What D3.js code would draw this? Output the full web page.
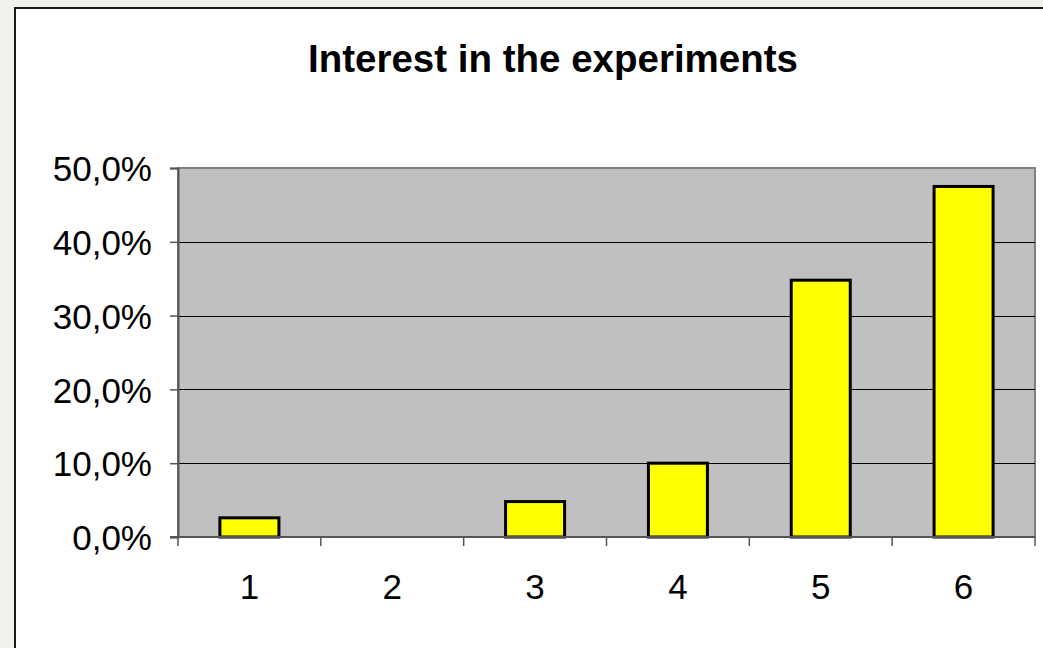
<!DOCTYPE html>
<html>
<head>
<meta charset="utf-8">
<script src="https://cdn.jsdelivr.net/npm/d3@7"></script>
<style>
  html, body { margin: 0; padding: 0; background: #f0f0ec; }
  svg { display: block; }
</style>
</head>
<body>
<script>
const categories = ["1", "2", "3", "4", "5", "6"];
const values = [0.026, 0.0, 0.048, 0.100, 0.348, 0.475];
const yTicks = [0, 0.1, 0.2, 0.3, 0.4, 0.5];
const title = "Interest in the experiments";

const W = 1043, H = 648;
const svg = d3.select("body").append("svg").attr("width", W).attr("height", H);

svg.append("rect").attr("x", 15).attr("y", 8).attr("width", W + 20).attr("height", H + 20)
  .attr("fill", "#ffffff").attr("stroke", "#1a1a1a").attr("stroke-width", 2);

const plot = { left: 178, top: 168, right: 1035, bottom: 537 };

const xOuter = d3.scaleBand().domain(categories).range([plot.left, plot.right]);
const y = d3.scaleLinear().domain([0, 0.5]).range([plot.bottom, plot.top]);

svg.append("rect").attr("x", plot.left).attr("y", plot.top)
  .attr("width", plot.right - plot.left).attr("height", plot.bottom - plot.top)
  .attr("fill", "#c0c0c0").attr("stroke", "#808080").attr("stroke-width", 2);

svg.append("g").selectAll("line").data(yTicks.filter(d => d > 0 && d < 0.5)).join("line")
  .attr("x1", plot.left).attr("x2", plot.right)
  .attr("y1", d => Math.round(y(d)) + 0.5).attr("y2", d => Math.round(y(d)) + 0.5)
  .attr("stroke", "#000").attr("stroke-width", 1);

const bw = 59;
svg.append("g").selectAll("rect").data(values.map((v, i) => ({ c: categories[i], v })).filter(d => d.v > 0)).join("rect")
  .attr("x", d => xOuter(d.c) + xOuter.bandwidth() / 2 - bw / 2)
  .attr("y", d => y(d.v))
  .attr("width", bw)
  .attr("height", d => y(0) - y(d.v))
  .attr("fill", "#ffff00").attr("stroke", "#000").attr("stroke-width", 3);

const yAxis = d3.axisLeft(y).tickValues(yTicks).tickSize(8).tickPadding(18)
  .tickFormat(d => d3.format(".1f")(d * 100).replace(".", ",") + "%");
const gy = svg.append("g").attr("transform", `translate(${plot.left},0)`).call(yAxis);
gy.select(".domain").attr("stroke", "#555").attr("stroke-width", 2);
gy.selectAll(".tick line").attr("stroke", "#555").attr("stroke-width", 1.5);
gy.selectAll("text").attr("font-family", "Liberation Sans, Arial, sans-serif")
  .attr("font-size", 35).attr("fill", "#000").attr("dy", "0.36em");

const xAxis = d3.axisBottom(xOuter).tickSize(0).tickPadding(37);
const gx = svg.append("g").attr("transform", `translate(0,${plot.bottom})`).call(xAxis);
gx.select(".domain").remove();
gx.append("line").attr("x1", plot.left - 8).attr("x2", plot.right).attr("y1", 0).attr("y2", 0)
  .attr("stroke", "#555").attr("stroke-width", 2);
gx.selectAll(".tick text").attr("font-family", "Liberation Sans, Arial, sans-serif")
  .attr("font-size", 35).attr("fill", "#000").attr("dy", "0.71em");
const bounds = categories.map(c => xOuter(c)).concat([plot.right]);
gx.append("g").selectAll("line").data(bounds).join("line")
  .attr("x1", d => d).attr("x2", d => d).attr("y1", 0).attr("y2", 9)
  .attr("stroke", "#555").attr("stroke-width", 1.5);

svg.append("text").attr("x", 553).attr("y", 72).attr("text-anchor", "middle")
  .attr("font-family", "Liberation Sans, Arial, sans-serif").attr("font-weight", "bold")
  .attr("font-size", 38.5).attr("fill", "#000").text(title);
</script>
</body>
</html>
